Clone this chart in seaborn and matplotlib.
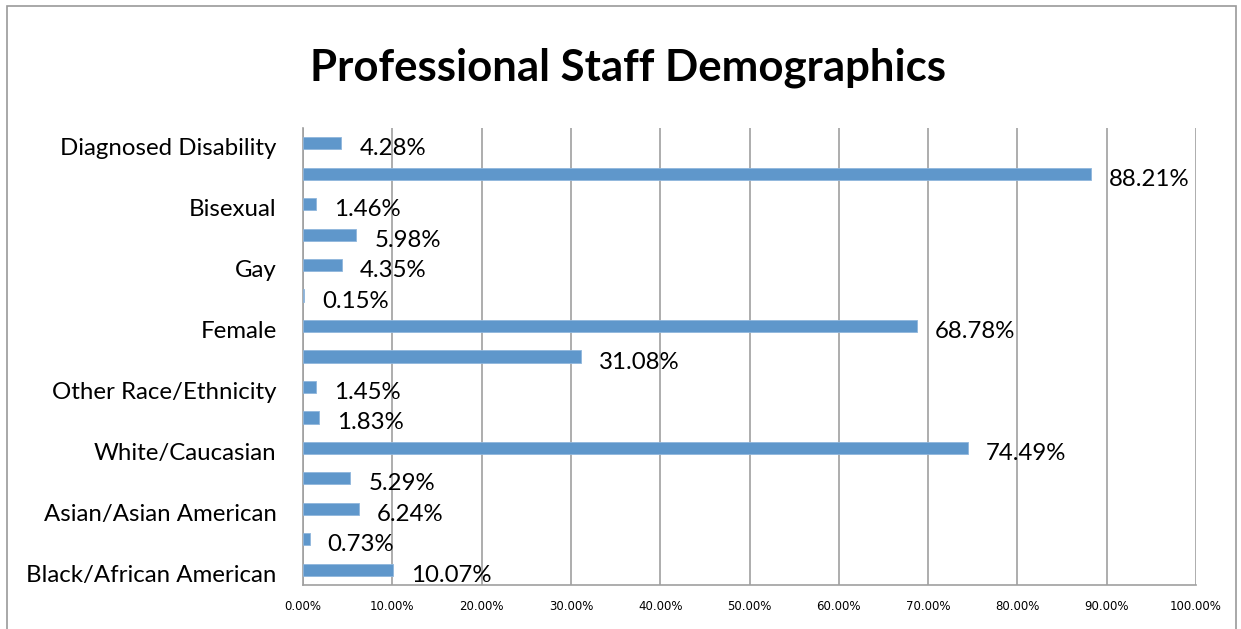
import matplotlib
matplotlib.use("Agg")
import matplotlib.pyplot as plt
import seaborn as sns
import pandas as pd
from matplotlib.patches import Rectangle
from matplotlib.ticker import FuncFormatter

# data, top to bottom as drawn
categories = ["Diagnosed Disability", "Heterosexual", "Bisexual", "Lesbian", "Gay",
              "Transgender", "Female", "Male", "Other Race/Ethnicity", "Multiracial",
              "White/Caucasian", "Hispanic/Latino", "Asian/Asian American",
              "American Indian", "Black/African American"]
percent = [4.28, 88.21, 1.46, 5.98, 4.35, 0.15, 68.78, 31.08, 1.45, 1.83,
           74.49, 5.29, 6.24, 0.73, 10.07]
# Excel only printed every other category name
tick_labels = ["Diagnosed Disability", "", "Bisexual", "", "Gay", "", "Female", "",
               "Other Race/Ethnicity", "", "White/Caucasian", "", "Asian/Asian American",
               "", "Black/African American"]

df = pd.DataFrame({"Category": categories, "Value": [p / 100 for p in percent]})

sns.set_style("white")
plt.rcParams["font.family"] = ["Lato", "DejaVu Sans"]
plt.rcParams["text.color"] = "black"
plt.rcParams["xtick.color"] = "black"
plt.rcParams["ytick.color"] = "black"

fig = plt.figure(figsize=(12.41, 6.29), dpi=100)
ax = fig.add_axes([0.2442, 0.070, 0.7195, 0.7265])

sns.barplot(data=df, x="Value", y="Category", orient="h", order=categories,
            color="#5f97cb", saturation=1, width=0.4, edgecolor="#8fb6dc",
            linewidth=0.6, ax=ax, zorder=3)

ax.set_xlim(0, 1.0)
ax.set_ylim(len(categories) - 0.5, -0.5)
ax.set_xticks([i / 10 for i in range(11)])
ax.xaxis.set_major_formatter(FuncFormatter(lambda v, _: f"{v * 100:.2f}%"))
for lbl in ax.get_xticklabels():
    lbl.set_family(["Liberation Sans Narrow", "DejaVu Sans"])
    lbl.set_fontsize(8.5)
# names sit a touch below the bar centres in the original (y tick marks are hidden)
ax.set_yticks([i + 0.11 for i in range(len(categories))])
ax.set_yticklabels(tick_labels, fontsize=17.3)
ax.set_xlabel("")
ax.set_ylabel("")

ax.grid(axis="x", color="#a0a0a0", linewidth=1.2, zorder=0)
ax.grid(axis="y", visible=False)
for side in ["top", "right"]:
    ax.spines[side].set_visible(False)
for side in ["left", "bottom"]:
    ax.spines[side].set_color("#a0a0a0")
    ax.spines[side].set_linewidth(1.2)
ax.tick_params(axis="x", length=5, color="#a0a0a0", pad=6)
ax.tick_params(axis="y", length=0, pad=19)

# data labels
for i, p in enumerate(percent):
    ax.annotate(f"{p:.2f}%", xy=(p / 100, i), xytext=(13, -4),
                textcoords="offset points", ha="left", va="center",
                fontsize=17.3, color="black", zorder=4)

fig.suptitle("Professional Staff Demographics", x=0.506, y=0.925,
             fontsize=31.5, fontweight="bold", color="black")

# chart frame
fig.patches.append(Rectangle((0.006, -0.01), 0.99, 1.0, transform=fig.transFigure,
                             fill=False, edgecolor="#9a9a9a", linewidth=1.2))

fig.savefig("out.png", dpi=100)
